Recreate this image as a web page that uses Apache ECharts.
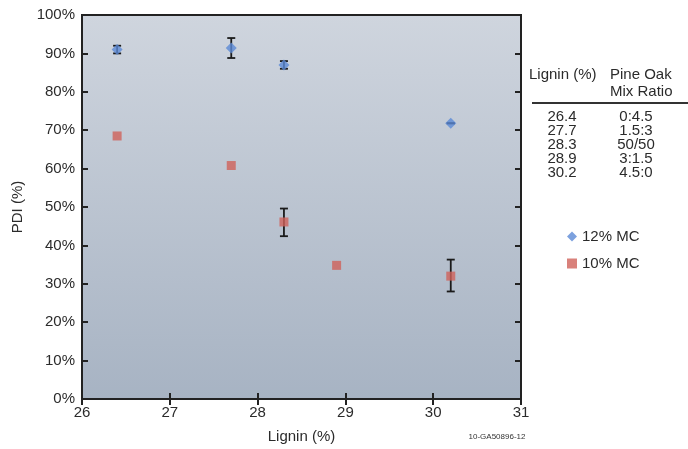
<!DOCTYPE html>
<html>
<head>
<meta charset="utf-8">
<script src="https://cdn.jsdelivr.net/npm/echarts@6/dist/echarts.min.js"></script>
<style>
  html, body { margin: 0; padding: 0; background: #fff; }
  #chart { width: 688px; height: 449px; }
</style>
</head>
<body>
<div id="chart"></div>
<script>
// values
const mc12Points = [[26.4, 91], [27.7, 91.4], [28.3, 87], [30.2, 71.8]];
const mc12Errors = [[26.4, 90, 92], [27.7, 88.8, 94], [28.3, 86, 88], [30.2, 71.8, 71.8]];
const mc10Points = [[26.4, 68.5], [27.7, 60.8], [28.3, 46.1], [28.9, 34.8], [30.2, 32]];
const mc10Errors = [[28.3, 42.4, 49.6], [30.2, 28, 36.3]];
const tableLignin = ["26.4", "27.7", "28.3", "28.9", "30.2"];
const tableRatio = ["0:4.5", "1.5:3", "50/50", "3:1.5", "4.5:0"];

const chartDom = document.getElementById("chart");
const myChart = echarts.init(chartDom);

const font = "Liberation Sans, Arial, sans-serif";
const textColor = "#2b2b2b";

const errorBar = (data) => ({
  type: "custom",
  data: data,
  z: 3,
  renderItem: (params, api) => {
    const x = api.value(0);
    const lo = api.coord([x, api.value(1)]);
    const hi = api.coord([x, api.value(2)]);
    const cap = 4;
    const style = { stroke: "#1a1a1a", lineWidth: 1.8 };
    return {
      type: "group",
      children: [
        { type: "line", shape: { x1: lo[0], y1: lo[1], x2: hi[0], y2: hi[1] }, style },
        { type: "line", shape: { x1: lo[0] - cap, y1: lo[1], x2: lo[0] + cap, y2: lo[1] }, style },
        { type: "line", shape: { x1: hi[0] - cap, y1: hi[1], x2: hi[0] + cap, y2: hi[1] }, style },
      ],
    };
  },
});

// table on the right
const cell = (text, x, y, align) => ({
  type: "text", x: x, y: y,
  style: { text: text, font: "15px " + font, fill: textColor, align: align, verticalAlign: "middle" },
});
const tableGraphics = [
  cell("Lignin (%)", 529, 75, "left"),
  cell("Pine Oak", 610, 75, "left"),
  cell("Mix Ratio", 610, 92, "left"),
  { type: "line", shape: { x1: 532, y1: 103, x2: 688, y2: 103 }, style: { stroke: "#333", lineWidth: 2 } },
];
tableLignin.forEach((v, i) => {
  tableGraphics.push(cell(v, 562, 117 + i * 14, "center"));
  tableGraphics.push(cell(tableRatio[i], 636, 117 + i * 14, "center"));
});
tableGraphics.push({
  type: "text", x: 497, y: 437,
  style: { text: "10-GA50896-12", font: "8px " + font, fill: "#333", align: "center", verticalAlign: "middle" },
});

const hiddenAxis = {
  axisLine: { show: false },
  axisLabel: { show: false },
  splitLine: { show: false },
  axisTick: { show: true, inside: true, length: 6, lineStyle: { color: "#222", width: 2 } },
};

const option = {
  animation: false,
  grid: {
    left: 82, right: 167, top: 15, bottom: 49,
    show: true,
    borderColor: "#222",
    borderWidth: 2,
    backgroundColor: new echarts.graphic.LinearGradient(0, 0, 0, 1, [
      { offset: 0, color: "#cfd5de" },
      { offset: 1, color: "#a7b3c3" },
    ]),
  },
  legend: {
    orient: "vertical",
    left: 562, top: 224,
    itemGap: 12,
    itemWidth: 10, itemHeight: 10,
    textStyle: { fontFamily: font, fontSize: 15, color: textColor },
    data: [
      { name: "12% MC", icon: "diamond" },
      { name: "10% MC", icon: "rect" },
    ],
  },
  xAxis: [
    {
      type: "value", min: 26, max: 31, interval: 1,
      name: "Lignin (%)", nameLocation: "middle", nameGap: 30,
      nameTextStyle: { fontFamily: font, fontSize: 15, color: textColor },
      axisLine: { show: false },
      axisTick: { inside: true, length: 6, lineStyle: { color: "#222", width: 2 } },
      axisLabel: { fontFamily: font, fontSize: 15, color: textColor, margin: 6 },
      splitLine: { show: false },
    },
    Object.assign({}, hiddenAxis, { type: "value", position: "top", min: 26, max: 31, interval: 1 }),
  ],
  yAxis: [
    {
      type: "value", min: 0, max: 100, interval: 10,
      name: "PDI (%)", nameLocation: "middle", nameGap: 57, nameRotate: 90,
      nameTextStyle: { fontFamily: font, fontSize: 15, color: textColor },
      axisLine: { show: false },
      axisTick: { inside: true, length: 6, lineStyle: { color: "#222", width: 2 } },
      axisLabel: { fontFamily: font, fontSize: 15, color: textColor, margin: 7, formatter: "{value}%" },
      splitLine: { show: false },
    },
    Object.assign({}, hiddenAxis, { type: "value", position: "right", min: 0, max: 100, interval: 10 }),
  ],
  graphic: tableGraphics,
  series: [
    errorBar(mc12Errors),
    errorBar(mc10Errors),
    {
      name: "12% MC",
      type: "scatter",
      symbol: "diamond",
      symbolSize: 11,
      z: 4,
      itemStyle: { color: "#5b8ad6" },
      data: mc12Points,
    },
    {
      name: "10% MC",
      type: "scatter",
      symbol: "rect",
      symbolSize: 9,
      z: 4,
      itemStyle: { color: "#d0625a" },
      data: mc10Points,
    },
  ],
};

myChart.setOption(option);
</script>
</body>
</html>
